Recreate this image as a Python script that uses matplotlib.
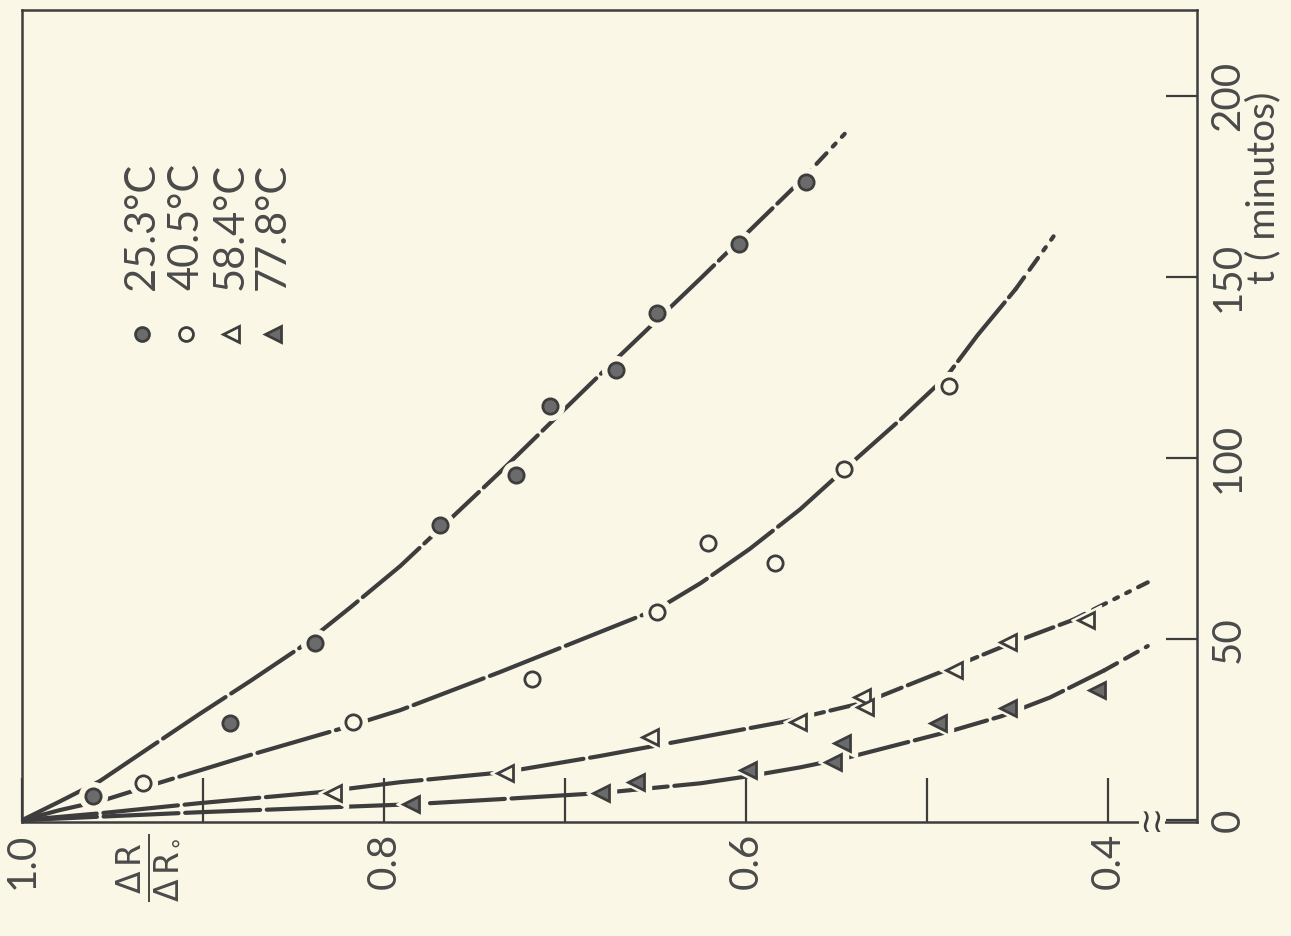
import matplotlib
matplotlib.use("Agg")
import matplotlib.pyplot as plt
from matplotlib.lines import Line2D

# ---------------- data (ratio dR/dR0, time t in minutes) ----------------
labels = ["25.3°C", "40.5°C", "58.4°C", "77.8°C"]

r_253 = [0.961, 0.885, 0.838, 0.769, 0.727, 0.708, 0.672, 0.649, 0.604, 0.567]
t_253 = [6.6, 26.8, 48.9, 81.5, 95.3, 114.4, 124.3, 140.1, 159.1, 176.2]

r_405 = [0.933, 0.817, 0.718, 0.649, 0.621, 0.584, 0.546, 0.488]
t_405 = [10.2, 27.1, 39.0, 57.5, 76.5, 71.0, 97.0, 119.9]

r_584 = [0.828, 0.733, 0.653, 0.571, 0.536, 0.534, 0.485, 0.455, 0.412]
t_584 = [7.5, 13.0, 22.9, 27.1, 34.0, 31.2, 41.4, 49.2, 55.2]

r_778 = [0.785, 0.680, 0.661, 0.599, 0.552, 0.547, 0.494, 0.455, 0.406]
t_778 = [4.4, 7.5, 10.5, 13.8, 16.0, 21.3, 26.8, 30.9, 35.9]

# hand-drawn fitted curves (vertices)
fit_r_253 = [1.000, 0.979, 0.957, 0.930, 0.902, 0.874, 0.846, 0.819, 0.791,
             0.764, 0.736, 0.681, 0.625, 0.570]
fit_t_253 = [0.0, 5.2, 10.8, 19.9, 29.3, 38.4, 47.8, 58.6, 70.2,
             82.9, 96.1, 122.9, 149.7, 176.5]
tail_r_253 = [0.570, 0.543]
tail_t_253 = [176.5, 190.9]

fit_r_405 = [1.000, 0.979, 0.955, 0.925, 0.874, 0.823, 0.791, 0.736, 0.681,
             0.649, 0.625, 0.598, 0.570, 0.543, 0.515, 0.489, 0.472, 0.451]
fit_t_405 = [0.0, 2.8, 5.5, 10.2, 18.0, 25.4, 30.4, 40.9, 51.9,
             58.3, 65.5, 74.9, 85.9, 98.1, 110.5, 122.7, 134.0, 146.7]
tail_r_405 = [0.451, 0.428]
tail_t_405 = [146.7, 162.7]

fit_r_584 = [1.000, 0.957, 0.902, 0.836, 0.791, 0.733, 0.681, 0.625, 0.580,
             0.534, 0.494, 0.455, 0.420]
fit_t_584 = [0.0, 1.9, 4.7, 7.7, 10.5, 13.3, 17.7, 22.9, 27.1,
             32.6, 40.6, 48.6, 55.2]
tail_r_584 = [0.420, 0.378]
tail_t_584 = [55.2, 65.7]

fit_r_778 = [1.000, 0.902, 0.785, 0.736, 0.680, 0.625, 0.598, 0.570, 0.543,
             0.515, 0.487, 0.459, 0.432, 0.402]
fit_t_778 = [0.0, 2.2, 4.4, 5.8, 7.5, 10.2, 12.2, 14.6, 17.4,
             21.0, 24.6, 28.7, 33.9, 41.4]
tail_r_778 = [0.402, 0.378]
tail_t_778 = [41.4, 48.1]

r_ticks_major = [1.0, 0.8, 0.6, 0.4]
r_tick_labels = ["1.0", "0.8", "0.6", "0.4"]
r_ticks_minor = [0.9, 0.7, 0.5]
t_ticks = [0, 50, 100, 150, 200]
t_tick_labels = ["0", "50", "100", "150", "200"]

# ---------------- style ----------------
BG = "#faf7e6"
INK = "#3d3d3d"
TXT = "#4a4a4a"
FILL = "#6b6b6b"
W, H = 1291, 936
plt.rcParams["font.family"] = ["Lato", "DejaVu Sans"]
FONT_W = "normal"

fig = plt.figure(figsize=(W / 100, H / 100), dpi=100, facecolor=BG)
ax = fig.add_axes([22 / W, 114 / H, (1197 - 22) / W, (822 - 10) / H])
ax.set_facecolor(BG)
ax.set_xlim(1.0, 0.3508)
ax.set_ylim(-0.5, 223.8)

for s in ax.spines.values():
    s.set_color(INK)
    s.set_linewidth(1.8)

LW = 3.0
dash = (0, (18, 1.6))
tail_style = (0, (3.5, 2.2, 3.5, 2.2, 1.0, 2.2, 1.0, 2.2))

series = [
    (r_253, t_253, fit_r_253, fit_t_253, tail_r_253, tail_t_253, "o", FILL, 11),
    (r_405, t_405, fit_r_405, fit_t_405, tail_r_405, tail_t_405, "o", BG, 11),
    (r_584, t_584, fit_r_584, fit_t_584, tail_r_584, tail_t_584, "<", BG, 12),
    (r_778, t_778, fit_r_778, fit_t_778, tail_r_778, tail_t_778, "<", FILL, 12),
]

for (rx, ty, fr, ft, tr, tt, mk, fc, ms) in series:
    ax.plot(fr, ft, color=INK, lw=LW, linestyle=dash, dash_capstyle="round",
            solid_capstyle="round", solid_joinstyle="round", zorder=2)
    ax.plot(tr, tt, color=INK, lw=LW, linestyle=tail_style,
            dash_capstyle="round", zorder=2)
    # paper-coloured halo that breaks the line around each point
    ax.plot(rx, ty, linestyle="none", marker=mk, ms=ms + 9, mfc=BG, mec=BG,
            zorder=3)
    ax.plot(rx, ty, linestyle="none", marker=mk, ms=ms, mfc=fc, mec=INK,
            mew=2.0, zorder=4)

# ---- ratio axis (bottom) ----
ax.set_xticks(r_ticks_major)
ax.set_xticklabels(r_tick_labels, rotation=90, fontsize=29, color=TXT,
                   fontweight=FONT_W)
ax.set_xticks(r_ticks_minor, minor=True)
ax.tick_params(axis="x", which="both", direction="in", length=32, width=1.6,
               color=INK, pad=8, top=False)

# ---- time axis (right) ----
ax.yaxis.tick_right()
ax.set_yticks(t_ticks)
ax.set_yticklabels(t_tick_labels, rotation=90, fontsize=29, color=TXT,
                   fontweight=FONT_W, va="center")
ax.tick_params(axis="y", which="both", direction="in", length=22, width=1.6,
               color=INK, pad=9, left=False)

fig.text(1263 / W, 1 - 188 / H, "t ( minutos)", rotation=90, fontsize=28,
         color=TXT, ha="center", va="center", fontweight=FONT_W)

fig.text(148 / W, 1 - 868 / H, r"$\frac{\Delta\,\mathrm{R}}{\Delta\,\mathrm{R}_{\circ}}$",
         rotation=90, fontsize=34, color=TXT, ha="center", va="center")

# axis break mark on the bottom spine
fig.text(1152 / W, 1 - 823 / H, "\u2240\u2240", fontsize=24, color=INK,
         ha="center", va="center", family="DejaVu Sans",
         bbox=dict(boxstyle="square,pad=0.02", fc=BG, ec="none"))

# ---- legend (rotated, as in the figure) ----
leg_x = [142, 186, 231, 273]
leg_markers = [("o", FILL, 11), ("o", BG, 11), ("<", BG, 12), ("<", FILL, 12)]
for lx, lab, (mk, fc, ms) in zip(leg_x, labels, leg_markers):
    fig.text(lx / W, 1 - 226 / H, lab, rotation=90, fontsize=30, color=TXT,
             ha="center", va="center", fontweight=FONT_W)
    fig.add_artist(Line2D([lx / W], [1 - 334 / H], transform=fig.transFigure,
                          linestyle="none", marker=mk, ms=ms - 1, mfc=fc,
                          mec=INK, mew=2.0))

fig.savefig("out.png", dpi=100, facecolor=BG)
